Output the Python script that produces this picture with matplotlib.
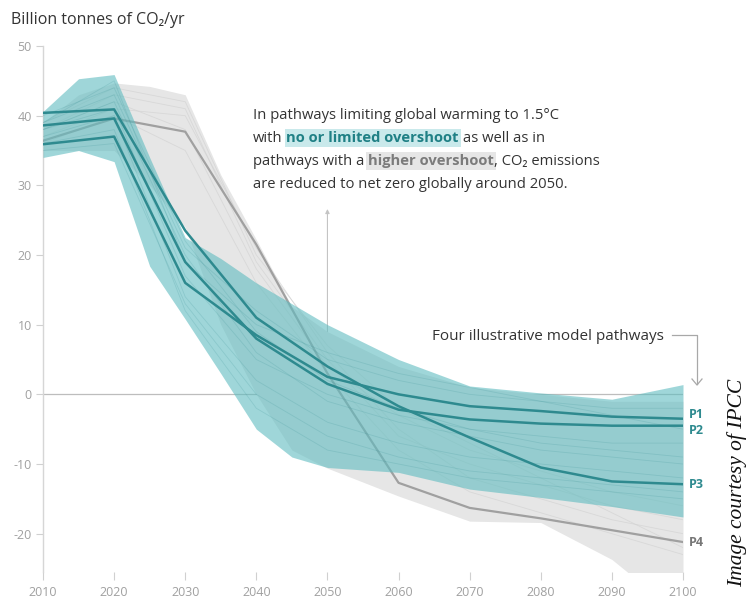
import matplotlib.pyplot as plt
import numpy as np

# ---- data ----
band_years = [2010, 2015, 2020, 2025, 2030, 2035, 2040, 2045, 2050, 2060, 2070, 2080, 2090, 2100]
teal_hi = [40.6, 45.3, 45.9, 34.0, 22.5, 19.5, 16.0, 13.0, 10.0, 5.0, 1.2, 0.2, -0.7, 1.4]
teal_lo = [34.0, 35.0, 33.4, 18.4, 10.8, 3.0, -5.0, -9.0, -10.5, -11.2, -13.6, -14.8, -16.1, -17.6]
gray_hi = [39.0, 43.0, 44.7, 44.2, 43.0, 31.5, 22.2, 12.6, 9.0, 4.0, 1.0, 0.0, -1.0, -1.0]
gray_lo = [35.0, 35.0, 35.0, 30.0, 24.0, 10.0, 0.0, -8.0, -10.6, -14.6, -18.2, -18.4, -23.7, -32.0]

years = [2010, 2020, 2030, 2040, 2050, 2060, 2070, 2080, 2090, 2100]
p1 = [35.9, 37.0, 16.0, 8.5, 2.5, 0.0, -1.7, -2.4, -3.2, -3.5]
p2 = [38.6, 39.6, 19.0, 8.0, 1.5, -2.2, -3.6, -4.2, -4.5, -4.5]
p3 = [40.4, 40.9, 23.5, 11.0, 4.0, -1.7, -6.2, -10.5, -12.5, -12.9]
p4 = [36.4, 39.6, 37.7, 21.5, 3.0, -12.7, -16.3, -17.8, -19.5, -21.2]

# faint individual pathways inside the two ranges
teal_faint = [
    [38, 42, 20, 6, -1, -4, -6, -8, -9, -10],
    [37, 40, 14, 2, -4, -7, -9, -10, -11, -12],
    [39, 43, 21, 12, 5, 2, 0, -1, -2, -2],
    [36, 38, 12, -2, -8, -10, -12, -13, -14, -15],
    [40, 44, 22, 9, 2, -2, -5, -7, -8, -9],
    [38, 41, 17, 5, 0, -3, -5, -6, -7, -7],
    [39, 45, 19, 10, 6, 3, 1, -1, -3, -5],
    [35, 36, 13, 0, -6, -9, -11, -12, -13, -14],
]
gray_faint = [
    [37, 41, 40, 21, 6, -5, -12, -15, -18, -20],
    [38, 43, 41, 19, 5, -6, -10, -13, -16, -18],
    [36, 40, 35, 16, 3, -8, -14, -17, -20, -23],
    [38, 42, 38, 18, 4, -3, -8, -11, -14, -16],
    [39, 44, 42, 20, 7, -2, -7, -12, -17, -22],
]

y_ticks = [50, 40, 30, 20, 10, 0, -10, -20]
x_ticks = list(range(2010, 2101, 10))

TEAL = '#5fbcc0'
TEAL_LINE = '#2e8a8f'
GRAY_BAND = '#e6e6e6'
GRAY_LINE = '#a0a0a0'
TXT = '#333333'

plt.rcParams['font.family'] = ['Open Sans', 'DejaVu Sans']
plt.rcParams['axes.unicode_minus'] = False

W, H = 754, 601
fig = plt.figure(figsize=(W / 100, H / 100), dpi=100)
ax = fig.add_axes([43 / W, 1 - 572 / H, 640 / W, 526 / H])
ax.set_xlim(2010, 2100)
ax.set_ylim(-25.5, 50)

# axes styling
for s in ['top', 'right', 'bottom']:
    ax.spines[s].set_visible(False)
ax.spines['left'].set_color('#d6d6d6')
ax.spines['left'].set_linewidth(1)
ax.set_yticks(y_ticks)
ax.set_xticks(x_ticks)
ax.tick_params(axis='y', colors='#d0d0d0', labelcolor='#a0a0a0', labelsize=9, length=5, pad=3)
ax.tick_params(axis='x', colors='#d0d0d0', labelcolor='#a0a0a0', labelsize=9, length=6, pad=4)

# zero line and 2050 pointer
ax.axhline(0, color='#bdbdbd', lw=0.9, zorder=1)
ax.annotate('', xy=(2050, 27.0), xytext=(2050, 0),
            arrowprops=dict(arrowstyle='-|>', color='#c4c4c4', lw=0.8,
                            mutation_scale=6), zorder=1)

# higher overshoot range
ax.fill_between(band_years, gray_lo, gray_hi, color=GRAY_BAND, lw=0, zorder=2)
for f in gray_faint:
    ax.plot(years, f, color='#d2d2d2', lw=0.6, alpha=0.7, zorder=2.5)
ax.plot(years, p4, color=GRAY_LINE, lw=1.6, zorder=3)

# no/limited overshoot range
ax.fill_between(band_years, teal_lo, teal_hi, color=TEAL, alpha=0.6, lw=0, zorder=4)
for f in teal_faint:
    ax.plot(years, f, color=TEAL_LINE, lw=0.6, alpha=0.18, zorder=4.5)
for p in (p1, p2, p3):
    ax.plot(years, p, color=TEAL_LINE, lw=1.8, zorder=5)

# pathway labels
lab = dict(fontsize=9, fontweight='bold', va='center', ha='left')
ax.text(2100.8, -2.9, 'P1', color=TEAL_LINE, **lab)
ax.text(2100.8, -5.2, 'P2', color=TEAL_LINE, **lab)
ax.text(2100.8, p3[-1], 'P3', color=TEAL_LINE, **lab)
ax.text(2100.8, p4[-1], 'P4', color='#777777', **lab)

# title
fig.text(11 / W, 1 - 24 / H, 'Billion tonnes of CO₂/yr', color=TXT, fontsize=11.5, va='baseline')

# rich text annotation
fig.canvas.draw()
renderer = fig.canvas.get_renderer()


def width_px(t):
    return t.get_window_extent(renderer).width


def rich_line(x_px, base_px, parts, size=10.6):
    probe = fig.text(0, 0, 'x x', fontsize=size)
    probe2 = fig.text(0, 0, 'xx', fontsize=size)
    sp = width_px(probe) - width_px(probe2)
    probe.remove()
    probe2.remove()
    x = x_px
    for i, (txt, kw) in enumerate(parts):
        t = fig.text(x / W, 1 - base_px / H, txt, fontsize=size, va='baseline', **kw)
        x += width_px(t)
        if i < len(parts) - 1 and not parts[i + 1][0].startswith(','):
            x += sp


plain = dict(color=TXT)
hl_teal = dict(color='#1f8085', fontweight='bold',
               bbox=dict(boxstyle='square,pad=0.12', fc='#c9e9eb', ec='none'))
hl_gray = dict(color='#7b7b7b', fontweight='bold',
               bbox=dict(boxstyle='square,pad=0.12', fc='#e6e6e6', ec='none'))

rich_line(253, 119, [('In pathways limiting global warming to 1.5°C', plain)])
rich_line(253, 142, [('with', plain), ('no or limited overshoot', hl_teal), ('as well as in', plain)])
rich_line(253, 165, [('pathways with a', plain), ('higher overshoot', hl_gray),
                     (', CO₂ emissions', plain)])
rich_line(253, 188, [('are reduced to net zero globally around 2050.', plain)])

# illustrative pathways callout
fig.text(664 / W, 1 - 340 / H, 'Four illustrative model pathways', color=TXT,
         fontsize=11, ha='right', va='baseline')
fig.add_artist(plt.Line2D([672 / W, 697 / W, 697 / W],
                          [1 - 335 / H, 1 - 335 / H, 1 - 384 / H],
                          color='#a8a8a8', lw=0.9))
fig.add_artist(plt.Line2D([692 / W, 697 / W, 702 / W],
                          [1 - 379 / H, 1 - 385 / H, 1 - 379 / H],
                          color='#a8a8a8', lw=0.9))

# credit
fig.text(737 / W, 1 - 483 / H, 'Image courtesy of IPCC', rotation=90, fontsize=15.5,
         family='Liberation Serif', style='italic', color='#111111',
         ha='center', va='center')

fig.savefig('out.png', dpi=100)
